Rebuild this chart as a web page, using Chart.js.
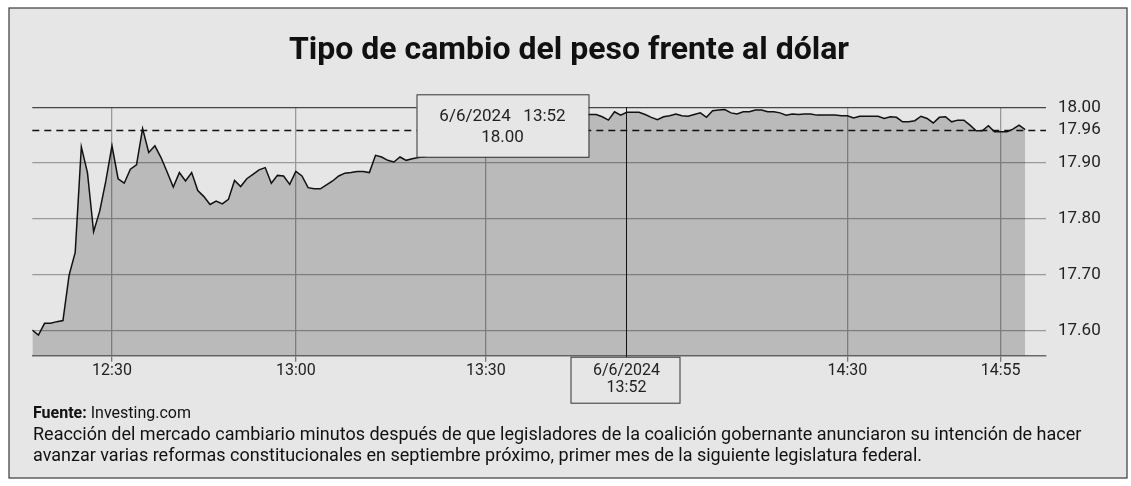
<!DOCTYPE html>
<html><head><meta charset="utf-8">
<script src="https://cdn.jsdelivr.net/npm/chart.js@4.4.1/dist/chart.umd.min.js"></script>
<style>html,body{margin:0;padding:0;background:#fff}canvas{display:block}</style>
</head><body>
<canvas id="c" width="1131" height="486" style="width:1131px;height:486px"></canvas>
<script>
const chartTitle = 'Tipo de cambio del peso frente al dólar';
// MXN per USD, one value per sampled minute (index-based), 12:17 -> 14:59
const ratesOpen = [17.601,17.592,17.613,17.613,17.616,17.618,17.699,17.740,17.929,17.883,
  17.777,17.814,17.868,17.931,17.872,17.864,17.889,17.897,17.962,17.919,
  17.931,17.910,17.884,17.857,17.883,17.868,17.883,17.851,17.840,17.826,
  17.832,17.827,17.835,17.869,17.858,17.872,17.880,17.888,17.892,17.864,
  17.878,17.877,17.862,17.885,17.877,17.856,17.854,17.854,17.861,17.868,
  17.877,17.882,17.883,17.885,17.885,17.883,17.914,17.911,17.905,17.902,
  17.911,17.905,17.908,17.910];
const ratesMid = [17.912,17.918,17.915,17.924,17.930,17.927,17.936,17.942,17.940,17.948,
  17.952,17.950,17.958,17.962,17.960,17.966,17.970,17.968,17.975,17.978,
  17.976,17.982,17.980,17.984,17.983,17.986,17.987];
const ratesLate = [17.987,17.987,17.983,17.977,17.992,17.986,17.991,17.991,17.991,17.987,
  17.982,17.978,17.983,17.985,17.988,17.985,17.984,17.987,17.990,17.982,
  17.994,17.995,17.996,17.990,17.988,17.992,17.992,17.995,17.995,17.992,
  17.992,17.990,17.986,17.988,17.987,17.988,17.988,17.986,17.986,17.986,
  17.986,17.985,17.985,17.981,17.984,17.984,17.984,17.984,17.980,17.983,
  17.982,17.974,17.974,17.976,17.984,17.980,17.972,17.982,17.983,17.974,
  17.977,17.977,17.968,17.958,17.958,17.967,17.956,17.956,17.956,17.961,
  17.968,17.960];
const rates = ratesOpen.concat(ratesMid, ratesLate);
const xTickIndex = [13, 43, 74, 133, 158];
const xTickLabels = ['12:30', '13:00', '13:30', '14:30', '14:55'];
const yTicks = [17.60, 17.70, 17.80, 17.90, 17.96, 18.00];
const refLevel = 17.96;
const focusIndex = 97;
const focusDate = '6/6/2024';
const focusTime = '13:52';
const focusValue = '18.00';
const sourceLabel = 'Fuente:';
const sourceName = 'Investing.com';
const noteLines = [
  'Reacción del mercado cambiario minutos después de que legisladores de la coalición gobernante anunciaron su intención de hacer',
  'avanzar varias reformas constitucionales en septiembre próximo, primer mes de la siguiente legislatura federal.'
];

const FONT = 'Roboto, "Liberation Sans", Arial, sans-serif';
const BG = '#e6e6e6';

const decor = {
  id: 'decor',
  beforeDraw(chart) {
    const c = chart.ctx;
    c.save();
    c.fillStyle = '#ffffff';
    c.fillRect(0, 0, chart.width, chart.height);
    c.fillStyle = BG;
    c.fillRect(9, 8, 1118, 470);
    c.strokeStyle = '#3a3a3a';
    c.lineWidth = 1.2;
    c.strokeRect(9, 8, 1118, 470);
    c.restore();
  },
  afterDatasetsDraw(chart) {
    const c = chart.ctx, a = chart.chartArea, y = chart.scales.y.getPixelForValue(refLevel);
    c.save();
    c.strokeStyle = '#111';
    c.lineWidth = 1.3;
    c.setLineDash([7, 5]);
    c.beginPath();
    c.moveTo(a.left, Math.round(y) + 0.5);
    c.lineTo(a.right, Math.round(y) + 0.5);
    c.stroke();
    c.restore();
  },
  afterDraw(chart) {
    const c = chart.ctx, a = chart.chartArea;
    const xs = chart.scales.x, ys = chart.scales.y;
    const fx = Math.round(xs.getPixelForValue(focusIndex)) - 0.5;
    c.save();
    // crosshair
    c.strokeStyle = '#111';
    c.lineWidth = 1;
    c.beginPath();
    c.moveTo(fx, a.top);
    c.lineTo(fx, a.bottom + 2);
    c.stroke();
    // bottom time box
    const bw = 109, bt = a.bottom + 1.5, bh = 46;
    c.fillStyle = BG;
    c.fillRect(fx - bw / 2 - 1, bt, bw, bh);
    c.strokeStyle = '#333';
    c.strokeRect(fx - bw / 2 - 1, bt, bw, bh);
    c.fillStyle = '#222';
    c.font = '16px ' + FONT;
    c.textAlign = 'center';
    c.textBaseline = 'middle';
    c.fillText(focusDate, fx, bt + 14);
    c.fillText(focusTime, fx, bt + 31);
    // top value box
    const tTop = ys.getPixelForValue(18.0) - 13, tW = 172, tH = 62.5;
    const tRight = fx - 38, tLeft = tRight - tW;
    c.fillStyle = BG;
    c.fillRect(tLeft, tTop, tW, tH);
    c.strokeStyle = '#333';
    c.strokeRect(tLeft + 0.5, tTop + 0.5, tW, tH);
    c.fillStyle = '#222';
    c.font = '17px ' + FONT;
    c.fillText(focusDate + '   ' + focusTime, tLeft + tW / 2, tTop + 22);
    c.fillText(focusValue, tLeft + tW / 2, tTop + 43);
    // title
    c.fillStyle = '#111';
    c.font = 'bold 32px ' + FONT;
    c.fillText(chartTitle, 569, 51);
    // footer
    c.textAlign = 'left';
    c.font = 'bold 16px ' + FONT;
    c.fillText(sourceLabel, 33, 414);
    const w = c.measureText(sourceLabel + ' ').width;
    c.font = '16px ' + FONT;
    c.fillText(sourceName, 33 + w, 414);
    c.font = '18px ' + FONT;
    noteLines.forEach((t, i) => c.fillText(t, 33, 435 + i * 21));
    c.restore();
  }
};

new Chart(document.getElementById('c'), {
  type: 'line',
  data: {
    datasets: [{
      data: rates.map((v, i) => ({ x: i, y: v })),
      borderColor: '#111',
      borderWidth: 1.5,
      backgroundColor: 'rgba(0,0,0,0.19)',
      fill: 'start',
      pointRadius: 0,
      tension: 0
    }]
  },
  options: {
    responsive: false,
    animation: false,
    layout: { padding: { left: 32.3, top: 107.3, right: 0, bottom: 0 } },
    plugins: { legend: { display: false }, tooltip: { enabled: false }, title: { display: false } },
    scales: {
      x: {
        type: 'linear', min: 0, max: 165.4,
        afterBuildTicks: s => { s.ticks = xTickIndex.map(v => ({ value: v })); },
        afterFit: s => { s.height = 486 - 355.7; },
        ticks: {
          autoSkip: false, maxRotation: 0, padding: 0, color: '#222',
          font: { family: FONT, size: 16 },
          callback: v => { const k = xTickIndex.indexOf(v); return k >= 0 ? xTickLabels[k] : ''; }
        },
        grid: { color: '#9a9a9a', lineWidth: 1.3, tickLength: 6, tickColor: '#777' },
        border: { color: '#6a6a6a', width: 1.5 }
      },
      y: {
        position: 'right', min: 17.555, max: 18.0,
        afterBuildTicks: s => { s.ticks = yTicks.map(v => ({ value: v })); },
        afterFit: s => { s.width = 1131 - 1046; },
        ticks: {
          autoSkip: false, padding: 12, color: '#222',
          font: { family: FONT, size: 17 },
          callback: v => Number(v).toFixed(2)
        },
        grid: {
          drawTicks: false, lineWidth: 1.3,
          color: ctx => {
            const v = ctx.tick ? ctx.tick.value : null;
            if (v === null) return '#9a9a9a';
            if (Math.abs(v - 18) < 1e-6) return '#444';
            if (Math.abs(v - refLevel) < 1e-6) return 'rgba(0,0,0,0)';
            return '#9a9a9a';
          }
        },
        border: { display: false }
      }
    }
  },
  plugins: [decor]
});
</script>
</body></html>
